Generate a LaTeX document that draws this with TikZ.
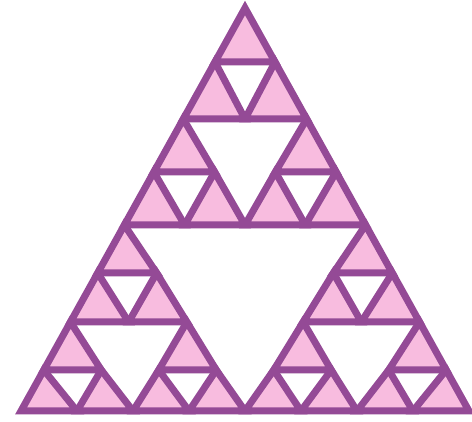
\documentclass[tikz,border=0pt]{standalone}
\definecolor{sierline}{HTML}{944A96}
\definecolor{sierfill}{HTML}{F8BCDF}
\begin{document}
\begin{tikzpicture}[x=1pt,y=-1pt,
  trifill/.style={fill=sierfill,draw=none},
  triline/.style={draw=sierline,line width=7pt,line join=miter}]
\fill[white] (0,0) rectangle (472,422);
\useasboundingbox (0,0) rectangle (472,422);
% lattice points
\foreach \k/\Y in {0/8,1/62,2/119,3/172,4/225,5/273,6/322,7/370,8/411}{
  \pgfmathsetmacro\H{0.55583*(\Y-8)}
  \foreach \j in {0,...,\k}{
    \ifnum\k=0
      \coordinate (p-0-0) at (245,\Y);
    \else
      \pgfmathsetmacro\X{245-\H+2*\H*\j/\k}
      \coordinate (p-\k-\j) at (\X,\Y);
    \fi
  }
}
% fills
\foreach \k/\j/\kk/\jj in {0/0/1/1,
  1/0/2/1,1/1/2/2,
  2/0/3/1,2/2/3/3,
  3/0/4/1,3/1/4/2,3/2/4/3,3/3/4/4,
  4/0/5/1,4/4/5/5,
  5/0/6/1,5/1/6/2,5/4/6/5,5/5/6/6,
  6/0/7/1,6/2/7/3,6/4/7/5,6/6/7/7,
  7/0/8/1,7/1/8/2,7/2/8/3,7/3/8/4,7/4/8/5,7/5/8/6,7/6/8/7,7/7/8/8}{
  \path[trifill] (p-\k-\j) -- (p-\kk-\j) -- (p-\kk-\jj) -- cycle;
}
% outlines
\foreach \k/\j/\kk/\jj in {0/0/1/1,
  1/0/2/1,1/1/2/2,
  2/0/3/1,2/2/3/3,
  3/0/4/1,3/1/4/2,3/2/4/3,3/3/4/4,
  4/0/5/1,4/4/5/5,
  5/0/6/1,5/1/6/2,5/4/6/5,5/5/6/6,
  6/0/7/1,6/2/7/3,6/4/7/5,6/6/7/7,
  7/0/8/1,7/1/8/2,7/2/8/3,7/3/8/4,7/4/8/5,7/5/8/6,7/6/8/7,7/7/8/8}{
  \draw[triline] (p-\k-\j) -- (p-\kk-\j) -- (p-\kk-\jj) -- cycle;
}
\end{tikzpicture}
\end{document}
